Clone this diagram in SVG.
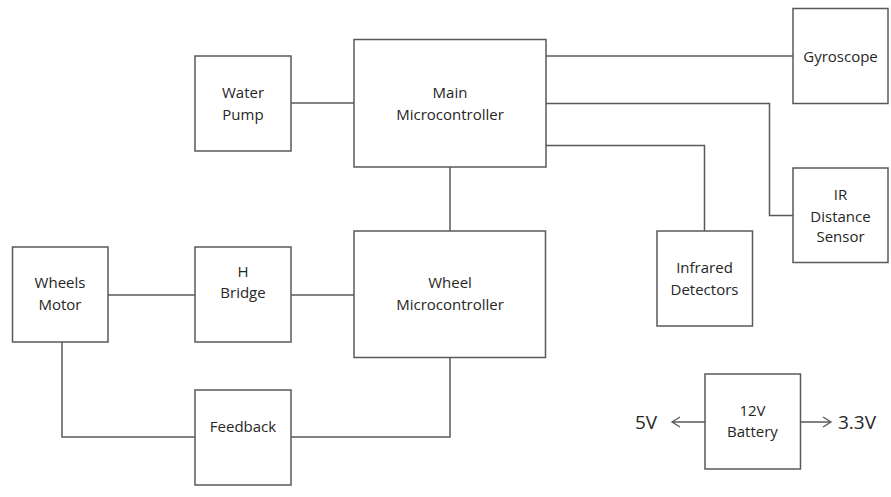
<svg xmlns="http://www.w3.org/2000/svg" width="891" height="497" viewBox="0 0 891 497">
<defs>
<style>
.box{fill:#fff;stroke:#595959;stroke-width:1.5}
.ln{fill:none;stroke:#595959;stroke-width:1.5}
text{font-family:"Open Sans","Liberation Sans",sans-serif;font-size:15px;fill:#262626;text-anchor:middle}
.big{font-size:19px}
</style>
<marker id="ah" markerWidth="12" markerHeight="12" refX="10" refY="6" orient="auto" markerUnits="userSpaceOnUse">
<path d="M2,1 L10,6 L2,11" fill="none" stroke="#595959" stroke-width="1.3"/>
</marker>
</defs>
<rect width="891" height="497" fill="#fff"/>
<g id="connectors">
<path class="ln" d="M291,103 H354"/>
<path class="ln" d="M546,56 H793"/>
<path class="ln" d="M546,103.5 H769.5 V215.5 H793"/>
<path class="ln" d="M546,145.5 H704.5 V231"/>
<path class="ln" d="M450,167 V231"/>
<path class="ln" d="M108,295 H195"/>
<path class="ln" d="M291,295 H354"/>
<path class="ln" d="M62,342 V437 H195"/>
<path class="ln" d="M291,437 H450 V357"/>
<path class="ln" d="M705,422 H672" marker-end="url(#ah)"/>
<path class="ln" d="M800,422 H831" marker-end="url(#ah)"/>
</g>
<g id="water-pump"><rect class="box" x="195" y="56" width="96" height="95"/><text x="243" y="98">Water</text><text x="243" y="120">Pump</text></g>
<g id="main-mc"><rect class="box" x="354" y="39.5" width="192" height="127.5"/><text x="450" y="98">Main</text><text x="450" y="120">Microcontroller</text></g>
<g id="gyroscope"><rect class="box" x="793" y="8.5" width="95" height="95"/><text x="840.5" y="62">Gyroscope</text></g>
<g id="ir-sensor"><rect class="box" x="793" y="168" width="95" height="94.5"/><text x="840.5" y="200">IR</text><text x="840.5" y="221.5">Distance</text><text x="840.5" y="242">Sensor</text></g>
<g id="infrared"><rect class="box" x="657" y="231" width="95.5" height="95"/><text x="704.5" y="273">Infrared</text><text x="704.5" y="295">Detectors</text></g>
<g id="wheels-motor"><rect class="box" x="12.5" y="247" width="95.5" height="95"/><text x="60" y="288">Wheels</text><text x="60" y="310">Motor</text></g>
<g id="h-bridge"><rect class="box" x="195" y="247" width="96" height="95"/><text x="243" y="277">H</text><text x="243" y="298">Bridge</text></g>
<g id="wheel-mc"><rect class="box" x="354" y="231" width="191.5" height="126.5"/><text x="450" y="288">Wheel</text><text x="450" y="310">Microcontroller</text></g>
<g id="feedback"><rect class="box" x="195" y="390" width="96" height="95"/><text x="243" y="432">Feedback</text></g>
<g id="battery"><rect class="box" x="705" y="374" width="95.5" height="95"/><text x="752.5" y="416">12V</text><text x="752.5" y="437">Battery</text></g>
<text class="big" x="646" y="429">5V</text>
<text class="big" x="857" y="429">3.3V</text>
</svg>
